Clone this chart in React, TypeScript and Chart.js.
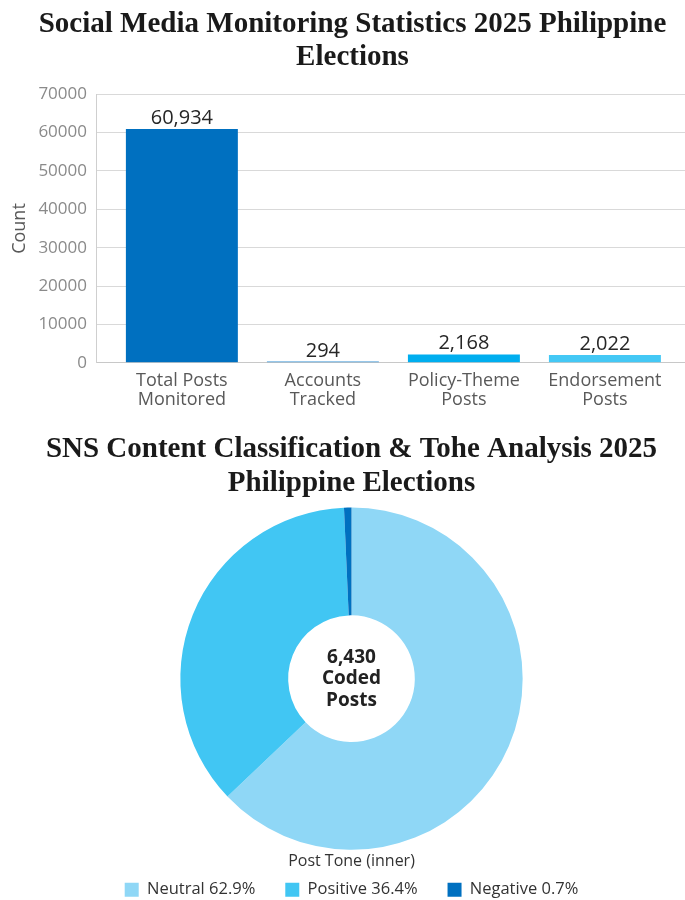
import React, { useEffect, useRef } from 'react';
import { Chart, registerables } from 'chart.js';

Chart.register(...registerables);

// ---------- data ----------
const BAR_TITLE = ['Social Media Monitoring Statistics 2025 Philippine', 'Elections'];
const BAR_CATEGORIES = [
  ['Total Posts', 'Monitored'],
  ['Accounts', 'Tracked'],
  ['Policy-Theme', 'Posts'],
  ['Endorsement', 'Posts'],
];
const BAR_VALUES = [60934, 294, 2168, 2022];
const BAR_COLORS = ['#0070C0', '#2E8FD6', '#00AEEF', '#44C8F5'];
const Y_AXIS_TITLE = 'Count';

const PIE_TITLE = ['SNS Content Classification & Tohe Analysis 2025', 'Philippine Elections'];
const TONE_LABELS = ['Neutral 62.9%', 'Positive 36.4%', 'Negative 0.7%'];
const TONE_VALUES = [62.9, 36.4, 0.7];
const TONE_COLORS = ['#8FD7F6', '#41C6F3', '#0070C0'];
const CENTER_LINES = ['6,430', 'Coded', 'Posts'];
const LEGEND_TITLE = 'Post Tone (inner)';

// ---------- styles ----------
const SANS = '"Open Sans", Lato, sans-serif';
const SERIF = '"Liberation Serif", "DejaVu Serif", serif';
const X_MIN = -0.609;
const X_MAX = 3.568;

export default function App() {
  const barRef = useRef<HTMLCanvasElement>(null);
  const pieRef = useRef<HTMLCanvasElement>(null);

  useEffect(() => {
    const barLabels = {
      id: 'barLabels',
      afterDatasetsDraw(chart: any) {
        const ctx = chart.ctx;
        const meta = chart.getDatasetMeta(0);
        ctx.save();
        ctx.font = `20px ${SANS}`;
        ctx.fillStyle = '#262626';
        ctx.textAlign = 'center';
        ctx.textBaseline = 'alphabetic';
        meta.data.forEach((el: any, i: number) => {
          ctx.fillText(BAR_VALUES[i].toLocaleString('en-US'), el.x, el.y - 5);
        });
        ctx.restore();
      },
    };

    const bar = new Chart(barRef.current as HTMLCanvasElement, {
      type: 'bar',
      data: {
        datasets: [
          {
            data: BAR_VALUES.map((v, i) => ({ x: i, y: v })),
            backgroundColor: BAR_COLORS,
            borderWidth: 0,
            barPercentage: 1,
            categoryPercentage: 0.794,
          },
        ],
      },
      options: {
        responsive: false,
        animation: false,
        events: [],
        layout: { padding: { left: 20, right: 0, top: 0, bottom: 0 } },
        plugins: {
          legend: { display: false },
          tooltip: { enabled: false },
          title: {
            display: true,
            text: BAR_TITLE,
            font: { family: SERIF, size: 29, weight: 'bold', lineHeight: 33 / 29 },
            color: '#1a1a1a',
            padding: { top: 8.5, bottom: 19.8 },
          },
        },
        scales: {
          x: {
            type: 'linear',
            offset: false,
            min: X_MIN,
            max: X_MAX,
            bounds: 'data',
            afterBuildTicks: (scale: any) => {
              scale.ticks = BAR_CATEGORIES.map((_, i) => ({ value: i }));
              scale.min = X_MIN;
              scale.max = X_MAX;
            },
            afterFit: (scale: any) => {
              scale.height = 52.3;
            },
            grid: { display: false, drawTicks: false, offset: false },
            border: { color: '#c8c8c8', width: 1 },
            ticks: {
              callback: (v: any) => BAR_CATEGORIES[v],
              font: { family: SANS, size: 18, lineHeight: 1.08 },
              color: '#595959',
              padding: 8,
              autoSkip: false,
              maxRotation: 0,
            },
          },
          y: {
            min: 0,
            max: 70000,
            afterFit: (scale: any) => {
              scale.width = 76;
            },
            ticks: {
              stepSize: 10000,
              callback: (v: any) => String(v),
              font: { family: SANS, size: 17 },
              color: '#8a8a8a',
              padding: 9,
            },
            grid: { color: '#d9d9d9', drawTicks: false },
            border: { color: '#cfcfcf' },
            title: {
              display: true,
              text: Y_AXIS_TITLE,
              font: { family: SANS, size: 18 },
              color: '#595959',
              padding: { top: -11, bottom: 0 },
            },
          },
        },
      } as any,
      plugins: [barLabels],
    });

    const centerText = {
      id: 'centerText',
      afterDraw(chart: any) {
        const { ctx, chartArea } = chart;
        const cx = (chartArea.left + chartArea.right) / 2;
        const cy = (chartArea.top + chartArea.bottom) / 2;
        ctx.save();
        ctx.font = `bold 19px ${SANS}`;
        ctx.fillStyle = '#222';
        ctx.textAlign = 'center';
        ctx.textBaseline = 'middle';
        const lh = 21.5;
        CENTER_LINES.forEach((t, i) => {
          ctx.fillText(t, cx, cy + (i - (CENTER_LINES.length - 1) / 2) * lh);
        });
        ctx.restore();
      },
    };

    const pie = new Chart(pieRef.current as HTMLCanvasElement, {
      type: 'doughnut',
      data: {
        labels: TONE_LABELS,
        datasets: [
          {
            data: TONE_VALUES,
            backgroundColor: TONE_COLORS,
            borderWidth: 0,
          },
        ],
      },
      options: {
        responsive: false,
        animation: false,
        events: [],
        cutout: '37%',
        layout: { padding: { left: 18, right: 0, top: 0, bottom: 0 } },
        plugins: {
          tooltip: { enabled: false },
          title: {
            display: true,
            text: PIE_TITLE,
            font: { family: SERIF, size: 29, weight: 'bold', lineHeight: 34 / 29 },
            color: '#1a1a1a',
            padding: { top: 18, bottom: 6.5 },
          },
          legend: {
            position: 'bottom',
            title: {
              display: true,
              text: LEGEND_TITLE,
              font: { family: SANS, size: 16 },
              color: '#333',
              padding: { top: 3.5, bottom: -21 },
            },
            labels: {
              boxWidth: 14,
              boxHeight: 14,
              padding: 30,
              font: { family: SANS, size: 16.5 },
              color: '#333',
            },
          },
        },
      } as any,
      plugins: [centerText],
    });

    return () => {
      bar.destroy();
      pie.destroy();
    };
  }, []);

  return (
    <div
      style={{
        position: 'absolute',
        left: 0,
        top: 0,
        width: 685,
        height: 900,
        overflow: 'hidden',
        background: '#fff',
      }}
    >
      <canvas
        ref={barRef}
        width={685}
        height={415}
        style={{ position: 'absolute', left: 0, top: 0 }}
      />
      <canvas
        ref={pieRef}
        width={685}
        height={493}
        style={{ position: 'absolute', left: 0, top: 415 }}
      />
    </div>
  );
}
